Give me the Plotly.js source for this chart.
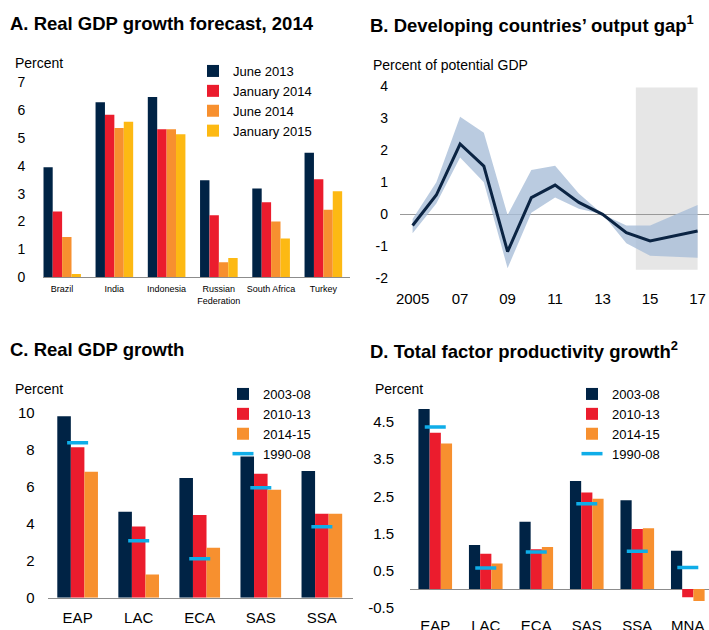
<!DOCTYPE html>
<html>
<head>
<meta charset="utf-8">
<script src="https://cdn.plot.ly/plotly-3.0.1.min.js"></script>
<style>html,body{margin:0;padding:0;background:#fff;}#chart{width:709px;height:630px;}</style>
</head>
<body>
<div id="chart"></div>
<script>
// ---------- Panel A data ----------
const countriesA = ["Brazil", "India", "Indonesia", "Russian<br>Federation", "South Africa", "Turkey"];
const namesA = ["June 2013", "January 2014", "June 2014", "January 2015"];
const june2013 = [3.95, 6.28, 6.47, 3.48, 3.19, 4.47];
const jan2014  = [2.36, 5.83, 5.31, 2.23, 2.69, 3.52];
const june2014 = [1.45, 5.36, 5.31, 0.54, 2.00, 2.42];
const jan2015  = [0.12, 5.58, 5.13, 0.69, 1.39, 3.09];

// ---------- Panel B data ----------
const yearsB = [2005, 2006, 2007, 2008, 2009, 2010, 2011, 2012, 2013, 2014, 2015, 2016, 2017];
const gapB   = [-0.35, 0.60, 2.19, 1.50, -1.16, 0.52, 0.91, 0.37, 0.00, -0.57, -0.83, -0.67, -0.52];
const upperB = [-0.15, 1.00, 3.04, 2.54, -0.02, 1.38, 1.51, 0.65, 0.00, -0.35, -0.35, -0.02, 0.29];
const lowerB = [-0.59, 0.34, 1.77, 1.00, -1.68, 0.05, 0.52, 0.17, 0.00, -0.90, -1.29, -1.33, -1.35];
const forecastStartB = 2014.4, forecastEndB = 2017.0;
const xTickValsB = [2005, 2007, 2009, 2011, 2013, 2015, 2017];
const xTickTextB = ["2005", "07", "09", "11", "13", "15", "17"];
const yTickValsB = [-2, -1, 0, 1, 2, 3, 4];
const yTickTextB = ["-2", "-1", "0", "1", "2", "3", "4"];

// ---------- Panel C data ----------
const regionsC = ["EAP", "LAC", "ECA", "SAS", "SSA"];
const periodNames = ["2003-08", "2010-13", "2014-15"];
const markerName = "1990-08";
const c0308 = [9.82, 4.65, 6.47, 7.64, 6.86];
const c1013 = [8.14, 3.85, 4.47, 6.70, 4.54];
const c1415 = [6.81, 1.26, 2.70, 5.84, 4.54];
const c9008 = [8.38, 3.08, 2.11, 5.95, 3.84];

// ---------- Panel D data ----------
const regionsD = ["EAP", "LAC", "ECA", "SAS", "SSA", "MNA"];
const d0308 = [4.85, 1.19, 1.81, 2.91, 2.39, 1.03];
const d1013 = [4.21, 0.95, 1.07, 2.60, 1.62, -0.22];
const d1415 = [3.92, 0.69, 1.13, 2.43, 1.64, -0.32];
const d9008 = [4.37, 0.57, 1.00, 2.30, 1.02, 0.58];
const yTickValsD = [-0.5, 0.5, 1.5, 2.5, 3.5, 4.5];
const yTickTextD = ["-0.5", "0.5", "1.5", "2.5", "3.5", "4.5"];

// ---------- styles ----------
const NAVY = "#002345", RED = "#EB1C2D", ORANGE = "#F7902F", YELLOW = "#FDB913", CYAN = "#0FADE8";
const W = 709, H = 630;
const fx = p => p / W;
const fy = p => 1 - p / H;
const FONT = "Liberation Sans, Arial, sans-serif";

const traces = [];

// Panel A bars
const seriesA = [june2013, jan2014, june2014, jan2015];
const colorsA = [NAVY, RED, ORANGE, YELLOW];
const groupA = 0.72, bwA = groupA / seriesA.length;
seriesA.forEach((vals, i) => {
  traces.push({type: "bar", x: countriesA, y: vals, name: namesA[i],
    marker: {color: colorsA[i]}, width: bwA, offset: -groupA / 2 + i * bwA,
    xaxis: "x", yaxis: "y", legend: "legend", hoverinfo: "skip"});
});

// Panel B band + line
traces.push({type: "scatter", mode: "lines", x: yearsB, y: lowerB, line: {width: 0, color: "rgba(0,0,0,0)"},
  showlegend: false, xaxis: "x2", yaxis: "y2", hoverinfo: "skip"});
traces.push({type: "scatter", mode: "lines", x: yearsB, y: upperB, line: {width: 0, color: "rgba(0,0,0,0)"},
  fill: "tonexty", fillcolor: "rgba(169,190,216,0.8)", showlegend: false, xaxis: "x2", yaxis: "y2", hoverinfo: "skip"});
traces.push({type: "scatter", mode: "lines", x: yearsB, y: gapB, line: {width: 3, color: "#0B2443"},
  showlegend: false, xaxis: "x2", yaxis: "y2", hoverinfo: "skip"});

// Panel C
const seriesC = [c0308, c1013, c1415];
const colorsC = [NAVY, RED, ORANGE];
const groupC = 0.666, bwC = groupC / 3;
seriesC.forEach((vals, i) => {
  traces.push({type: "bar", x: regionsC, y: vals, name: periodNames[i],
    marker: {color: colorsC[i]}, width: bwC, offset: -groupC / 2 + i * bwC,
    xaxis: "x3", yaxis: "y3", legend: "legend2", hoverinfo: "skip"});
});
traces.push({type: "scatter", mode: "markers", x: regionsC, y: c9008, name: markerName,
  marker: {symbol: "line-ew", size: 15, line: {width: 3.5, color: CYAN}},
  xaxis: "x3", yaxis: "y3", legend: "legend2", hoverinfo: "skip"});

// Panel D
const seriesD = [d0308, d1013, d1415];
const groupD = 0.666, bwD = groupD / 3;
seriesD.forEach((vals, i) => {
  traces.push({type: "bar", x: regionsD, y: vals, name: periodNames[i],
    marker: {color: colorsC[i]}, width: bwD, offset: -groupD / 2 + i * bwD,
    xaxis: "x4", yaxis: "y4", legend: "legend3", hoverinfo: "skip"});
});
traces.push({type: "scatter", mode: "markers", x: regionsD, y: d9008, name: markerName,
  marker: {symbol: "line-ew", size: 15, line: {width: 3.5, color: CYAN}},
  xaxis: "x4", yaxis: "y4", legend: "legend3", hoverinfo: "skip"});

const ann = (text, x, y, size, bold) => ({text, x: fx(x), y: fy(y), xref: "paper", yref: "paper",
  xanchor: "left", yanchor: "middle", showarrow: false,
  font: {size, family: FONT, color: "#000", weight: bold ? "bold" : "normal"}});

const legendBase = {xanchor: "left", yanchor: "top", bgcolor: "rgba(0,0,0,0)", borderwidth: 0,
  font: {size: 13, family: FONT, color: "#000"}, itemwidth: 30, traceorder: "normal"};

const layout = {
  width: W, height: H, margin: {l: 0, r: 0, t: 0, b: 0},
  paper_bgcolor: "#fff", plot_bgcolor: "rgba(0,0,0,0)",
  font: {family: FONT, color: "#000"},
  barmode: "group",
  xaxis: {domain: [fx(43.3), fx(350)], range: [-0.36, 5.51], type: "category", anchor: "y",
    showline: true, linecolor: "#8c8c8c", linewidth: 1, ticks: "", showgrid: false, zeroline: false,
    tickfont: {size: 9}, ticklabelstandoff: 3},
  yaxis: {domain: [fy(277.3), fy(73.9)], range: [0, 7.3], dtick: 1, anchor: "x", showgrid: false,
    zeroline: false, showline: false, ticks: "", tickfont: {size: 14}, ticklabelstandoff: 17},
  xaxis2: {domain: [fx(400), 1], range: [2004.47, 2017.48], anchor: "y2", showgrid: false, zeroline: false,
    showline: false, ticks: "", tickvals: xTickValsB, ticktext: xTickTextB, tickfont: {size: 15}, ticklabelstandoff: 6},
  yaxis2: {domain: [fy(281.7), fy(82.7)], range: [-2.1, 4.1], anchor: "x2", showgrid: false,
    zeroline: true, zerolinecolor: "#999", zerolinewidth: 1, showline: false, ticks: "",
    tickvals: yTickValsB, ticktext: yTickTextB, tickfont: {size: 14}, ticklabelstandoff: 11},
  xaxis3: {domain: [fx(47.7), fx(353)], range: [-0.49, 4.51], type: "category", anchor: "y3",
    showline: true, linecolor: "#8c8c8c", linewidth: 1, ticks: "", showgrid: false, zeroline: false,
    tickfont: {size: 15}, ticklabelstandoff: 6},
  yaxis3: {domain: [fy(597.8), fy(401.7)], range: [0, 10.6], dtick: 2, anchor: "x3", showgrid: false,
    zeroline: false, showline: false, ticks: "", tickfont: {size: 15}, ticklabelstandoff: 12},
  xaxis4: {domain: [fx(410), 1], range: [-0.5, 5.42], type: "category", anchor: "y4",
    showline: false, ticks: "", showgrid: false, zeroline: false, tickfont: {size: 15}, ticklabelstandoff: 4},
  yaxis4: {domain: [fy(611.3), fy(403.5)], range: [-0.6, 5.0], anchor: "x4", showgrid: false,
    zeroline: true, zerolinecolor: "#8c8c8c", zerolinewidth: 1, showline: false, ticks: "",
    tickvals: yTickValsD, ticktext: yTickTextD, tickfont: {size: 15}, ticklabelstandoff: 15},
  legend: Object.assign({}, legendBase, {x: fx(193), y: fy(56)}),
  legend2: Object.assign({}, legendBase, {x: fx(223), y: fy(379)}),
  legend3: Object.assign({}, legendBase, {x: fx(572), y: fy(379)}),
  shapes: [{type: "rect", xref: "x2", yref: "y2", x0: forecastStartB, x1: forecastEndB, y0: -1.73, y1: 3.95,
    fillcolor: "#E6E6E6", line: {width: 0}, layer: "below"}],
  annotations: [
    ann("A. Real GDP growth forecast, 2014", 8, 24, 18.5, true),
    ann("B. Developing countries\u2019 output gap<sup>1</sup>", 368, 24, 18.5, true),
    ann("C. Real GDP growth", 8, 349.5, 18.5, true),
    ann("D. Total factor productivity growth<sup>2</sup>", 368, 349.5, 18.5, true),
    ann("Percent", 13, 63.3, 14),
    ann("Percent of potential GDP", 371, 65, 14),
    ann("Percent", 13, 389, 14),
    ann("Percent", 373, 389, 14)
  ]
};

Plotly.newPlot("chart", traces, layout, {displayModeBar: false, staticPlot: true});
</script>
</body>
</html>
